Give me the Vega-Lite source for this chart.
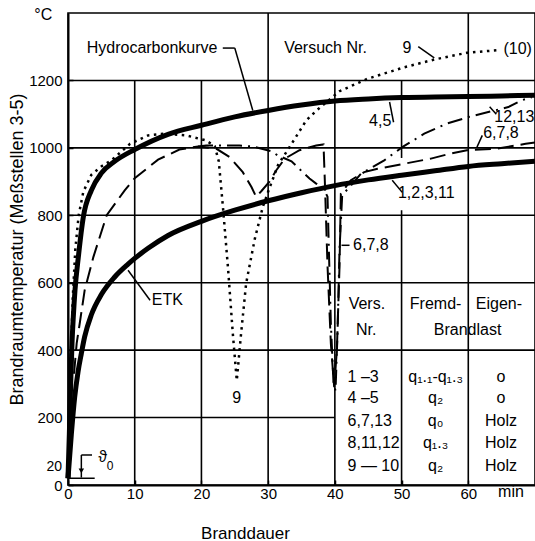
{
  "$schema": "https://vega.github.io/schema/vega-lite/v6.json",
  "width": 467,
  "height": 472,
  "autosize": {"type": "none"},
  "padding": {"left": 68, "top": 13, "right": 0, "bottom": 56},
  "background": "white",
  "config": {"view": {"stroke": "black", "strokeWidth": 1.6}},
  "datasets": {
    "grid": [
      {"t": 10, "v": 0, "t2": 10, "v2": 1200},
      {"t": 20, "v": 0, "t2": 20, "v2": 1200},
      {"t": 30, "v": 0, "t2": 30, "v2": 1400},
      {"t": 40, "v": 0, "t2": 40, "v2": 1200},
      {"t": 50, "v": 0, "t2": 50, "v2": 815},
      {"t": 50, "v": 970, "t2": 50, "v2": 1200},
      {"t": 60, "v": 0, "t2": 60, "v2": 1400},
      {"t": 0, "v": 1200, "t2": 70, "v2": 1200},
      {"t": 0, "v": 1000, "t2": 70, "v2": 1000},
      {"t": 0, "v": 800, "t2": 70, "v2": 800},
      {"t": 0, "v": 600, "t2": 70, "v2": 600},
      {"t": 0, "v": 400, "t2": 70, "v2": 400},
      {"t": 0, "v": 200, "t2": 40, "v2": 200}
    ],
    "etk": [
      {"t": 0, "v": 20}, {"t": 0.5, "v": 150}, {"t": 1, "v": 260}, {"t": 1.5, "v": 335},
      {"t": 2, "v": 390}, {"t": 2.5, "v": 440}, {"t": 3.5, "v": 505}, {"t": 5, "v": 565},
      {"t": 7, "v": 617}, {"t": 9, "v": 655}, {"t": 10, "v": 672}, {"t": 12, "v": 702},
      {"t": 15, "v": 740}, {"t": 20, "v": 782}, {"t": 25, "v": 815}, {"t": 30, "v": 843},
      {"t": 35, "v": 867}, {"t": 40, "v": 888}, {"t": 45, "v": 905}, {"t": 50, "v": 919},
      {"t": 55, "v": 932}, {"t": 60, "v": 945}, {"t": 65, "v": 953}, {"t": 70, "v": 960}
    ],
    "hc": [
      {"t": 0, "v": 20}, {"t": 0.2, "v": 150}, {"t": 0.4, "v": 300}, {"t": 0.6, "v": 420},
      {"t": 0.8, "v": 500}, {"t": 1.05, "v": 578}, {"t": 1.55, "v": 676}, {"t": 2.3, "v": 795},
      {"t": 3.5, "v": 874}, {"t": 5, "v": 925}, {"t": 7, "v": 960}, {"t": 10, "v": 995},
      {"t": 15, "v": 1040}, {"t": 20, "v": 1067}, {"t": 25, "v": 1092}, {"t": 30, "v": 1111},
      {"t": 35, "v": 1127}, {"t": 40, "v": 1139}, {"t": 45, "v": 1145}, {"t": 50, "v": 1149},
      {"t": 55, "v": 1151}, {"t": 60, "v": 1152}, {"t": 65, "v": 1154}, {"t": 70, "v": 1156}
    ],
    "v9": [
      {"t": 0.3, "v": 300}, {"t": 0.7, "v": 550}, {"t": 1.1, "v": 700}, {"t": 1.6, "v": 800},
      {"t": 2.3, "v": 870}, {"t": 3.5, "v": 920}, {"t": 5, "v": 945}, {"t": 6.5, "v": 963},
      {"t": 9.3, "v": 1012}, {"t": 12, "v": 1037}, {"t": 14.5, "v": 1042}, {"t": 17.7, "v": 1037},
      {"t": 20.7, "v": 1022}, {"t": 22, "v": 1005}, {"t": 22.6, "v": 960}, {"t": 23.2, "v": 830},
      {"t": 24, "v": 640}, {"t": 24.7, "v": 450}, {"t": 25.3, "v": 310}, {"t": 25.9, "v": 440},
      {"t": 26.7, "v": 598}, {"t": 28, "v": 730}, {"t": 29.2, "v": 825}, {"t": 30, "v": 870},
      {"t": 31.5, "v": 950}, {"t": 33.2, "v": 1002}, {"t": 35.7, "v": 1081}, {"t": 37.2, "v": 1110},
      {"t": 40.7, "v": 1168}, {"t": 44.9, "v": 1205}, {"t": 50.4, "v": 1239}, {"t": 54.9, "v": 1262},
      {"t": 59.8, "v": 1282}, {"t": 64.6, "v": 1290}
    ],
    "v678": [
      {"t": 0.9, "v": 330}, {"t": 1.3, "v": 420}, {"t": 1.8, "v": 485}, {"t": 2.5, "v": 578},
      {"t": 3.8, "v": 676}, {"t": 5.8, "v": 800}, {"t": 8.5, "v": 874}, {"t": 10, "v": 910},
      {"t": 13.5, "v": 965}, {"t": 16.7, "v": 995}, {"t": 19.5, "v": 1004}, {"t": 22.2, "v": 998},
      {"t": 24.2, "v": 973}, {"t": 26.2, "v": 928}, {"t": 27.5, "v": 884}, {"t": 28.2, "v": 855},
      {"t": 29, "v": 872}, {"t": 30.2, "v": 900}, {"t": 31.2, "v": 933}, {"t": 32.5, "v": 968},
      {"t": 34.7, "v": 993}, {"t": 37.2, "v": 1007}, {"t": 38.3, "v": 1010}, {"t": 38.5, "v": 900},
      {"t": 38.9, "v": 650}, {"t": 39.4, "v": 420}, {"t": 39.9, "v": 290}, {"t": 40.3, "v": 400},
      {"t": 40.7, "v": 650}, {"t": 40.9, "v": 864}, {"t": 42.4, "v": 904}, {"t": 44.4, "v": 928},
      {"t": 46.4, "v": 938}, {"t": 50.4, "v": 953}, {"t": 54.4, "v": 968}, {"t": 57.3, "v": 983},
      {"t": 59.8, "v": 993}, {"t": 64.1, "v": 997}, {"t": 68.6, "v": 1012}, {"t": 70, "v": 1016}
    ],
    "v1213": [
      {"t": 19.5, "v": 1004}, {"t": 20.7, "v": 1007}, {"t": 25.7, "v": 1007}, {"t": 27.7, "v": 1004},
      {"t": 30.5, "v": 990}, {"t": 31.4, "v": 978}, {"t": 33.5, "v": 960}, {"t": 35.4, "v": 924},
      {"t": 36.2, "v": 909}, {"t": 37.2, "v": 894}, {"t": 38.3, "v": 880}, {"t": 38.9, "v": 855},
      {"t": 39.1, "v": 700}, {"t": 39.4, "v": 480}, {"t": 39.8, "v": 300}, {"t": 40.1, "v": 280},
      {"t": 40.4, "v": 450}, {"t": 40.7, "v": 700}, {"t": 41.1, "v": 860}, {"t": 42.5, "v": 890},
      {"t": 43.9, "v": 923}, {"t": 47.4, "v": 963}, {"t": 50.1, "v": 1002}, {"t": 53.4, "v": 1042},
      {"t": 56.8, "v": 1072}, {"t": 60.3, "v": 1093}, {"t": 66, "v": 1121}, {"t": 68, "v": 1141},
      {"t": 69.5, "v": 1150}
    ],
    "leaders": [
      {"t": 23.2, "v": 1296, "t2": 25.0, "v2": 1296},
      {"t": 25.0, "v": 1296, "t2": 27.7, "v2": 1111},
      {"t": 52.5, "v": 1300, "t2": 54.9, "v2": 1267},
      {"t": 48.2, "v": 1136, "t2": 48.8, "v2": 1076},
      {"t": 63.2, "v": 1122, "t2": 64.2, "v2": 1100},
      {"t": 61.3, "v": 1002, "t2": 62.1, "v2": 1037},
      {"t": 48.6, "v": 904, "t2": 50.1, "v2": 868},
      {"t": 41.0, "v": 711, "t2": 42.2, "v2": 711},
      {"t": 9.0, "v": 637, "t2": 12.3, "v2": 548},
      {"t": 2.0, "v": 89, "t2": 3.6, "v2": 89},
      {"t": 2.0, "v": 89, "t2": 2.0, "v2": 22},
      {"t": 0, "v": 20, "t2": 4, "v2": 20}
    ],
    "arrow": [{"t": 2.0, "v": 42}],
    "labels": [
      {"t": 12.6, "v": 1296, "txt": "Hydrocarbonkurve"},
      {"t": 38.6, "v": 1296, "txt": "Versuch Nr."},
      {"t": 50.8, "v": 1296, "txt": "9"},
      {"t": 67.4, "v": 1293, "txt": "(10)"},
      {"t": 46.8, "v": 1081, "txt": "4,5"},
      {"t": 66.9, "v": 1092, "txt": "12,13"},
      {"t": 64.9, "v": 1043, "txt": "6,7,8"},
      {"t": 53.7, "v": 865, "txt": "1,2,3,11"},
      {"t": 45.4, "v": 711, "txt": "6,7,8"},
      {"t": 25.3, "v": 258, "txt": "9"},
      {"t": 14.9, "v": 548, "txt": "ETK"},
      {"t": -3.7, "v": 1393, "txt": "°C"},
      {"t": 66.4, "v": -22, "txt": "min"},
      {"t": 44.8, "v": 538, "txt": "Vers."},
      {"t": 44.7, "v": 459, "txt": "Nr."},
      {"t": 55.1, "v": 538, "txt": "Fremd-"},
      {"t": 64.6, "v": 538, "txt": "Eigen-"},
      {"t": 59.9, "v": 459, "txt": "Brandlast"},
      {"t": 55.1, "v": 321, "txt": "q₁.₁-q₁.₃"},
      {"t": 55.1, "v": 257, "txt": "q₂"},
      {"t": 55.1, "v": 190, "txt": "q₀"},
      {"t": 55.1, "v": 124, "txt": "q₁.₃"},
      {"t": 55.1, "v": 56, "txt": "q₂"},
      {"t": 64.9, "v": 321, "txt": "o"},
      {"t": 64.9, "v": 257, "txt": "o"},
      {"t": 64.9, "v": 190, "txt": "Holz"},
      {"t": 64.9, "v": 124, "txt": "Holz"},
      {"t": 64.9, "v": 56, "txt": "Holz"},
      {"t": 5.2, "v": 83, "txt": "ϑ"}
    ],
    "tableLeft": [
      {"t": 41.9, "v": 321, "txt": "1 –3"},
      {"t": 41.9, "v": 257, "txt": "4 –5"},
      {"t": 41.9, "v": 190, "txt": "6,7,13"},
      {"t": 41.9, "v": 124, "txt": "8,11,12"},
      {"t": 41.9, "v": 56, "txt": "9 — 10"}
    ],
    "axisExtra": [{"t": -0.9, "v": 52, "txt": "20"}],
    "sub": [{"t": 6.3, "v": 56, "txt": "0"}]
  },
  "layer": [
    {
      "data": {"name": "grid"},
      "mark": {"type": "rule", "stroke": "black", "strokeWidth": 1.6},
      "encoding": {
        "x": {
          "field": "t", "type": "quantitative",
          "scale": {"domain": [0, 70], "nice": false, "zero": false},
          "axis": {
            "title": "Branddauer",
            "values": [0, 5, 10, 15, 20, 25, 30, 35, 40, 45, 50, 55, 60],
            "format": "d",
            "labelExpr": "datum.value % 10 == 0 ? datum.label : ''",
            "grid": false, "domainColor": "black", "domainWidth": 2,
            "tickColor": "black", "tickWidth": 1.5, "tickSize": -5,
            "labelPadding": 6, "labelFlush": false, "labelOverlap": false, "labelBound": false,
            "labelFont": "Liberation Sans", "labelFontSize": 15, "labelColor": "black",
            "titleFont": "Liberation Sans", "titleFontSize": 17, "titleFontWeight": "normal",
            "titleColor": "black", "titleX": 177, "titleY": 48, "titleBaseline": "middle", "titleAlign": "center"
          }
        },
        "x2": {"field": "t2"},
        "y": {
          "field": "v", "type": "quantitative",
          "scale": {"domain": [0, 1400], "nice": false, "zero": false},
          "axis": {
            "title": "Brandraumtemperatur (Meßstellen 3-5)",
            "values": [0, 100, 200, 300, 400, 500, 600, 700, 800, 900, 1000, 1100, 1200, 1300],
            "format": "d",
            "labelExpr": "datum.value % 200 == 0 ? datum.label : ''",
            "grid": false, "domainColor": "black", "domainWidth": 2,
            "tickColor": "black", "tickWidth": 1.5, "tickSize": -5,
            "labelPadding": 11, "labelFlush": false, "labelOverlap": false, "labelBound": false,
            "labelFont": "Liberation Sans", "labelFontSize": 15, "labelColor": "black",
            "titleFont": "Liberation Sans", "titleFontSize": 18, "titleFontWeight": "normal",
            "titleColor": "black", "titleX": -51, "titleY": 236, "titleAngle": 270,
            "titleBaseline": "middle", "titleAlign": "center"
          }
        },
        "y2": {"field": "v2"}
      }
    },
    {
      "data": {"name": "etk"},
      "mark": {"type": "line", "stroke": "black", "strokeWidth": 5, "interpolate": "monotone"},
      "encoding": {
        "x": {"field": "t", "type": "quantitative"},
        "y": {"field": "v", "type": "quantitative"}
      }
    },
    {
      "data": {"name": "hc"},
      "mark": {"type": "line", "stroke": "black", "strokeWidth": 5, "interpolate": "monotone"},
      "encoding": {
        "x": {"field": "t", "type": "quantitative"},
        "y": {"field": "v", "type": "quantitative"}
      }
    },
    {
      "data": {"name": "v9"},
      "mark": {"type": "line", "stroke": "black", "strokeWidth": 2.5, "strokeDash": [2.5, 4.5]},
      "encoding": {
        "x": {"field": "t", "type": "quantitative"},
        "y": {"field": "v", "type": "quantitative"}
      }
    },
    {
      "data": {"name": "v678"},
      "mark": {"type": "line", "stroke": "black", "strokeWidth": 2, "strokeDash": [16, 7]},
      "encoding": {
        "x": {"field": "t", "type": "quantitative"},
        "y": {"field": "v", "type": "quantitative"}
      }
    },
    {
      "data": {"name": "v1213"},
      "mark": {"type": "line", "stroke": "black", "strokeWidth": 2, "strokeDash": [15, 6, 2, 6]},
      "encoding": {
        "x": {"field": "t", "type": "quantitative"},
        "y": {"field": "v", "type": "quantitative"}
      }
    },
    {
      "data": {"name": "leaders"},
      "mark": {"type": "rule", "stroke": "black", "strokeWidth": 1.5},
      "encoding": {
        "x": {"field": "t", "type": "quantitative"},
        "x2": {"field": "t2"},
        "y": {"field": "v", "type": "quantitative"},
        "y2": {"field": "v2"}
      }
    },
    {
      "data": {"name": "arrow"},
      "mark": {"type": "point", "shape": "triangle-down", "filled": true, "fill": "black", "size": 30, "opacity": 1},
      "encoding": {
        "x": {"field": "t", "type": "quantitative"},
        "y": {"field": "v", "type": "quantitative"}
      }
    },
    {
      "data": {"name": "labels"},
      "mark": {"type": "text", "font": "Liberation Sans", "fontSize": 16, "fill": "black", "align": "center", "baseline": "middle"},
      "encoding": {
        "x": {"field": "t", "type": "quantitative"},
        "y": {"field": "v", "type": "quantitative"},
        "text": {"field": "txt"}
      }
    },
    {
      "data": {"name": "tableLeft"},
      "mark": {"type": "text", "font": "Liberation Sans", "fontSize": 16, "fill": "black", "align": "left", "baseline": "middle"},
      "encoding": {
        "x": {"field": "t", "type": "quantitative"},
        "y": {"field": "v", "type": "quantitative"},
        "text": {"field": "txt"}
      }
    },
    {
      "data": {"name": "axisExtra"},
      "mark": {"type": "text", "font": "Liberation Sans", "fontSize": 14, "fill": "black", "align": "right", "baseline": "middle"},
      "encoding": {
        "x": {"field": "t", "type": "quantitative"},
        "y": {"field": "v", "type": "quantitative"},
        "text": {"field": "txt"}
      }
    },
    {
      "data": {"name": "sub"},
      "mark": {"type": "text", "font": "Liberation Sans", "fontSize": 12, "fill": "black", "align": "center", "baseline": "middle"},
      "encoding": {
        "x": {"field": "t", "type": "quantitative"},
        "y": {"field": "v", "type": "quantitative"},
        "text": {"field": "txt"}
      }
    }
  ]
}
